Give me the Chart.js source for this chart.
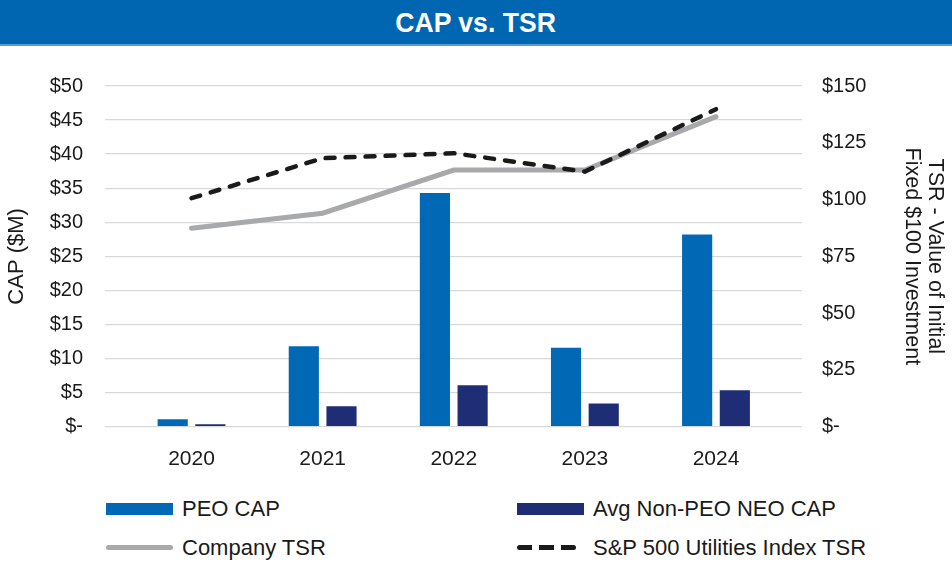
<!DOCTYPE html>
<html>
<head>
<meta charset="utf-8">
<script src="https://cdn.jsdelivr.net/npm/chart.js@4/dist/chart.umd.min.js"></script>
<style>
  html, body { margin: 0; padding: 0; background: #fff; }
  #page { position: relative; width: 952px; height: 562px; overflow: hidden; font-family: "Liberation Sans", Arial, sans-serif; }
  #banner { position: absolute; left: 0; top: 0; width: 952px; height: 44px; background: #0066b2; border-bottom: 2px solid #5a9bd6;
    color: #fff; font: bold 28px "Liberation Sans", Arial, sans-serif; text-align: center; line-height: 46px; }
  #banner span { display: inline-block; transform: scaleX(0.95); }
  #chart-box { position: absolute; left: 0; top: 0; width: 952px; height: 480px; }
  #legend { position: absolute; left: 106px; top: 489px; display: grid; grid-template-columns: 411px 420px; grid-auto-rows: 39px; }
  .item { display: flex; align-items: center; font-size: 22px; color: #1a1a1a; white-space: nowrap; }
  .swatch { width: 67px; margin-right: 9px; flex: none; }
</style>
</head>
<body>
<div id="page">
  <div id="chart-box"><canvas id="cap-chart" width="952" height="480"></canvas></div>
  <div id="banner"><span>CAP vs. TSR</span></div>
  <div id="legend"></div>
</div>
<script>
// Values
const years = ["2020", "2021", "2022", "2023", "2024"];
const peoCap = [1.1, 11.8, 34.3, 11.6, 28.2];
const avgNeoCap = [0.35, 3.0, 6.1, 3.4, 5.35];
const companyTsr = [87.4, 94.0, 113.0, 113.0, 136.5];
const utilitiesTsr = [100.6, 118.2, 120.4, 112.3, 139.8];

const leftTicksMax = 50;
const rightTicksMax = 150;

function toPoints(values) {
  return values.map((v, i) => ({ x: i, y: v }));
}

function money(v) {
  return v === 0 ? "$-" : "$" + v;
}

Chart.defaults.font.family = '"Liberation Sans", Arial, sans-serif';
Chart.defaults.font.size = 20;
Chart.defaults.color = "#1a1a1a";

function createChart() {
  const ctx = document.getElementById("cap-chart").getContext("2d");

  return new Chart(ctx, {
    type: "bar",
    data: {
      datasets: [
        {
          label: "PEO CAP",
          data: toPoints(peoCap),
          backgroundColor: "#0068b4",
          yAxisID: "y",
          order: 2,
          barPercentage: 0.8,
          categoryPercentage: 0.575,
        },
        {
          label: "Avg Non-PEO NEO CAP",
          data: toPoints(avgNeoCap),
          backgroundColor: "#1f2e74",
          yAxisID: "y",
          order: 2,
          barPercentage: 0.8,
          categoryPercentage: 0.575,
        },
        {
          type: "line",
          label: "Company TSR",
          data: toPoints(companyTsr),
          borderColor: "#a7a9ac",
          backgroundColor: "#a7a9ac",
          borderWidth: 5,
          borderCapStyle: "round",
          pointRadius: 0,
          tension: 0,
          yAxisID: "y1",
          order: 1,
        },
        {
          type: "line",
          label: "S&P 500 Utilities Index TSR",
          data: toPoints(utilitiesTsr),
          borderColor: "#1a1a1a",
          backgroundColor: "#1a1a1a",
          borderWidth: 4.5,
          borderDash: [9, 11],
          borderCapStyle: "round",
          pointRadius: 0,
          tension: 0,
          yAxisID: "y1",
          order: 0,
        },
      ],
    },
    options: {
      responsive: false,
      animation: false,
      layout: { padding: { top: 86, left: 0, right: 0, bottom: 0 } },
      plugins: {
        legend: { display: false },
        tooltip: { enabled: false },
      },
      scales: {
        x: {
          type: "linear",
          offset: false,
          min: -0.66,
          max: 4.656,
          grid: { display: false },
          border: { display: false },
          afterBuildTicks: (scale) => {
            scale.ticks = years.map((_, i) => ({ value: i }));
          },
          afterFit: (scale) => {
            scale.height = 53.3;
          },
          ticks: {
            padding: 12,
            font: { size: 21 },
            callback: (v) => years[v],
          },
        },
        y: {
          position: "left",
          min: 0,
          max: leftTicksMax,
          grid: { color: "#d9d9d9", lineWidth: 1.3, drawTicks: false },
          border: { display: false },
          ticks: { stepSize: 5, padding: 22, callback: money },
          title: { display: true, text: "CAP ($M)", font: { size: 22 }, padding: { top: 4, bottom: 0 } },
          afterFit: (scale) => {
            scale.width = 105;
          },
        },
        y1: {
          position: "right",
          min: 0,
          max: rightTicksMax,
          grid: { drawOnChartArea: false, drawTicks: false },
          border: { display: false },
          ticks: { stepSize: 25, padding: 20, callback: money },
          title: {
            display: true,
            text: ["TSR - Value of Initial", "Fixed $100 Investment"],
            font: { size: 21.5, lineHeight: 1.07 },
            padding: { top: 5.5, bottom: 0 },
          },
          afterFit: (scale) => {
            scale.width = 150;
          },
        },
      },
    },
  });
}

// Legend laid out in two columns like the original
function buildLegend(chart) {
  const legend = document.getElementById("legend");
  chart.data.datasets.forEach((ds) => {
    const item = document.createElement("div");
    item.className = "item";
    const sw = document.createElement("div");
    sw.className = "swatch";
    if (ds.type === "line") {
      sw.style.height = "5px";
      sw.style.borderRadius = "3px";
      if (ds.borderDash) {
        sw.style.background = "repeating-linear-gradient(90deg, " + ds.borderColor + " 0 15px, transparent 15px 22px)";
        sw.style.width = "59px";
        sw.style.marginRight = "17px";
      } else {
        sw.style.background = ds.borderColor;
      }
    } else {
      sw.style.height = "12px";
      sw.style.background = ds.backgroundColor;
    }
    const txt = document.createElement("span");
    txt.textContent = ds.label;
    item.appendChild(sw);
    item.appendChild(txt);
    legend.appendChild(item);
  });
}

const capChart = createChart();
buildLegend(capChart);
</script>
</body>
</html>
